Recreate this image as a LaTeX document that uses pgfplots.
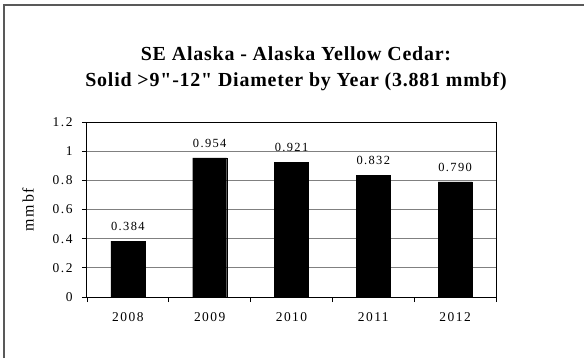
\documentclass[border=0pt]{standalone}
\usepackage{fontspec}
\setmainfont{Liberation Serif}
\newfontfamily\titlefont[Ligatures=TeXOff,LetterSpace=4]{Liberation Serif}
\newfontfamily\tickfont[LetterSpace=11]{Liberation Serif}
\usepackage{pgfplots}
\pgfplotsset{compat=1.18}
\usetikzlibrary{calc}

\begin{document}
\begin{tikzpicture}[x=1bp,y=1bp]
\begin{axis}[
    name=ax,
    scale only axis,
    width=409bp, height=175bp,
    ybar, bar width=34bp,
    xmin=-0.5, xmax=4.5,
    ymin=0, ymax=1.2,
    xtick={-0.5,0.5,1.5,2.5,3.5,4.5},
    xticklabels={},
    extra x ticks={0,1,2,3,4},
    extra x tick labels={2008,2009,2010,2011,2012},
    extra x tick style={major tick length=0pt, grid=none},
    ytick={0,0.2,0.4,0.6,0.8,1,1.2},
    xtick pos=lower, ytick pos=left,
    tick align=outside,
    major tick length=5bp,
    tick style={black, line width=0.8bp},
    ymajorgrids=true,
    grid style={black!50, line width=1bp},
    axis line style={black, line width=1bp},
    /pgf/number format/assume math mode=true,
    ticklabel style={font=\tickfont\fontsize{13.5}{15}\selectfont},
    xticklabel style={yshift=-12bp},
    yticklabel style={xshift=-6bp},
    ylabel={mmbf},
    ylabel style={at={(axis description cs:-0.144,0.5)}, anchor=center,
        font=\tickfont\fontsize{16}{18}\selectfont},
    nodes near coords,
    point meta=explicit,
    nodes near coords={\pgfmathprintnumber[fixed,zerofill,precision=3]{\pgfplotspointmeta}},
    every node near coord/.append style={font=\tickfont\fontsize{12.5}{14}\selectfont, yshift=7bp},
]
\addplot[fill=black, draw=black] coordinates {
    (0,0.384) [0.384]
    (1,0.954) [0.954]
    (2,0.921) [0.921]
    (3,0.832) [0.832]
    (4,0.790) [0.790]
};
\end{axis}
\pgfresetboundingbox
\begin{scope}[shift={($(ax.south west)+(-87,-61)$)}]
\useasboundingbox (0,0) rectangle (584,358);
% outer chart frame (only left and top edges are visible)
\draw[line width=1.5bp, black!65] (4,0) -- (4,353) -- (584,353);
% title
\node[anchor=base, font=\titlefont\bfseries\fontsize{20}{24}\selectfont] at (296,298)
  {SE Alaska - Alaska Yellow Cedar:};
\node[anchor=base, font=\titlefont\bfseries\fontsize{20}{24}\selectfont] at (296,272)
  {Solid >9"-12" Diameter by Year (3.881 mmbf)};
\end{scope}
\end{tikzpicture}
\end{document}
